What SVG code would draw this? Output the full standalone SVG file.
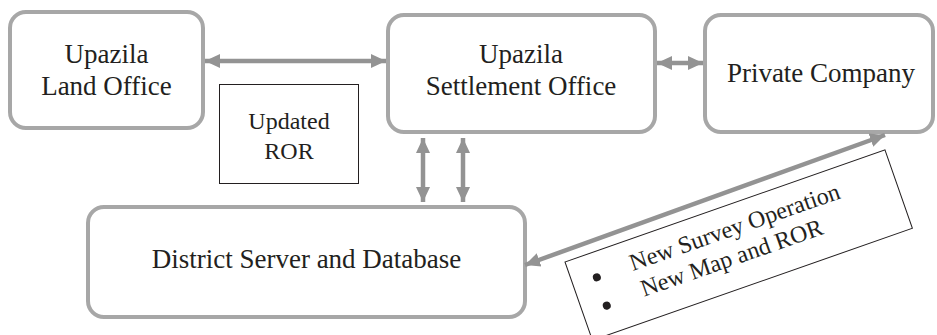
<svg xmlns="http://www.w3.org/2000/svg" width="937" height="335" viewBox="0 0 937 335">
<style>
.node{fill:#fff;stroke:#a7a7a7;stroke-width:4}
.lbl{font-family:"Liberation Serif","Times New Roman",serif;font-size:27px;fill:#231f20;text-anchor:middle}
.small{font-size:24px}
.conn{stroke:#939393;stroke-width:4.5;fill:none}
.note{fill:#fff;stroke:#231f20;stroke-width:1}
</style>
<defs>
<marker id="ah" markerUnits="userSpaceOnUse" markerWidth="16" markerHeight="16" refX="15" refY="7" orient="auto-start-reverse" viewBox="0 0 16 14">
<path d="M0,0 L15,7 L0,14 Z" fill="#939393"/>
</marker>
</defs>
<rect width="937" height="335" fill="#fff"/>
<g id="land-office">
<rect class="node" x="10" y="12" width="193" height="116" rx="16"/>
<text class="lbl" x="106.5" y="63">Upazila</text>
<text class="lbl" x="106.5" y="95">Land Office</text>
</g>
<g id="settlement-office">
<rect class="node" x="388" y="15" width="267" height="117" rx="16"/>
<text class="lbl" x="521" y="63">Upazila</text>
<text class="lbl" x="521" y="95">Settlement Office</text>
</g>
<g id="private-company">
<rect class="node" x="705" y="15" width="228" height="117" rx="16"/>
<text class="lbl" x="821" y="82">Private Company</text>
</g>
<g id="district-server">
<rect class="node" x="88" y="207" width="437" height="110" rx="16"/>
<text class="lbl" x="306.5" y="268">District Server and Database</text>
</g>
<g id="updated-ror">
<rect class="note" x="219.5" y="84.5" width="139" height="99"/>
<text class="lbl small" x="289" y="129">Updated</text>
<text class="lbl small" x="289" y="159">ROR</text>
</g>
<g id="survey-note" transform="translate(565,262) rotate(-19.3)">
<rect class="note" x="0" y="0" width="339" height="83"/>
<circle cx="25" cy="25" r="4" fill="#231f20"/>
<circle cx="25" cy="55" r="4" fill="#231f20"/>
<text class="lbl small" x="61" y="31" style="text-anchor:start">New Survey Operation</text>
<text class="lbl small" x="63" y="59" style="text-anchor:start">New Map and ROR</text>
</g>
<g id="connectors">
<line class="conn" x1="205" y1="61" x2="386" y2="61" marker-start="url(#ah)" marker-end="url(#ah)"/>
<line class="conn" x1="657" y1="63" x2="703" y2="63" marker-start="url(#ah)" marker-end="url(#ah)"/>
<line class="conn" x1="423" y1="138" x2="423" y2="202" marker-start="url(#ah)" marker-end="url(#ah)"/>
<line class="conn" x1="463" y1="138" x2="463" y2="202" marker-start="url(#ah)" marker-end="url(#ah)"/>
<line class="conn" x1="525" y1="265" x2="885" y2="135" marker-start="url(#ah)" marker-end="url(#ah)"/>
</g>
</svg>
